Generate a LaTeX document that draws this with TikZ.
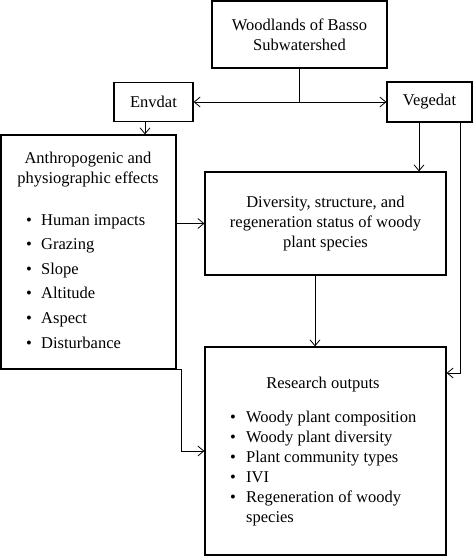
\documentclass[tikz,border=0pt]{standalone}
\usepackage{fontspec}
\setmainfont{Liberation Serif}
\usetikzlibrary{arrows.meta,calc}

\tikzset{
  box/.style={draw, line width=1.2pt, inner sep=0pt, align=center},
  arr/.style={-{Straight Barb[length=6pt,width=10pt]}, line width=0.8pt},
  txt/.style={inner sep=0pt},
}

\begin{document}
\begin{tikzpicture}[x=1pt,y=1pt,yscale=-1,xscale=1,font=\fontsize{16.5}{20}\selectfont]
\useasboundingbox (0,0) rectangle (473,556);

%Shape: Box [woodland]
\node [box, minimum width=175pt, minimum height=67pt] (woodland) at (299.5,34.5) {Woodlands of Basso\\Subwatershed};
%Shape: Box [envdat]
\node [box, minimum width=79pt, minimum height=39pt] (envdat) at (153.5,102) {Envdat};
%Shape: Box [vegedat]
\node [box, minimum width=85pt, minimum height=40pt] (vegedat) at (429.5,102) {Vegedat};
%Shape: Box [anthro]
\node [box, minimum width=175pt, minimum height=234pt] (anthro) at (88.5,252) {};
%Shape: Box [status]
\node [box, minimum width=241pt, minimum height=103pt] (status) at (325.5,223.5) {Diversity, structure, and\\regeneration status of woody\\plant species};
%Shape: Box [research]
\node [box, minimum width=241pt, minimum height=208pt] (research) at (325.5,451) {};

% Text Node
\node [txt, align=center] (anthrohead) at (88,170) {Anthropogenic and\\physiographic effects};
\foreach \lbl [count=\i] in {Human impacts, Grazing, Slope, Altitude, Aspect, Disturbance}
  \node [txt, anchor=base west] (effect\i) at (26,{225+24.6*(\i-1)}) {\makebox[15pt][l]{\textbullet}\lbl};
% Text Node
\node [txt, anchor=base] (researchhead) at (323,388) {Research outputs};
\foreach \lbl [count=\i] in {Woody plant composition, Woody plant diversity, Plant community types, IVI}
  \node [txt, anchor=base west] (output\i) at (230,{422+20*(\i-1)}) {\makebox[16pt][l]{\textbullet}\lbl};
\node [txt, anchor=base west] (output5) at (230,502) {\makebox[16pt][l]{\textbullet}\parbox[t]{190pt}{\raggedright Regeneration of woody\\species}};

%Straight Lines
\coordinate (split) at (woodland.south |- envdat.east);
\draw [line width=0.8pt] (woodland.south) -- (split);
\draw [arr] (split) -- (envdat.east);
\draw [arr] (split) -- (vegedat.west);
%Straight Lines
\draw [arr] ($(envdat.south)+(-8.5,0)$) -- ($(envdat.south |- anthro.north)+(-8.5,0)$);
\draw [arr] ($(vegedat.south)+(-10.5,0)$) -- ($(vegedat.south |- status.north)+(-10.5,0)$);
\draw [arr] ($(vegedat.south)+(30.5,0)$) |- ($(research.east)+(0,-78)$);
%Straight Lines
\draw [arr] (anthro.east |- status.west) -- (status.west);
\draw [arr] ($(status.south)+(-10.5,0)$) -- ($(research.north)+(-10.5,0)$);
\draw [arr] (anthro.south east) -- ++(5,0) |- (research.west);

\end{tikzpicture}
\end{document}
